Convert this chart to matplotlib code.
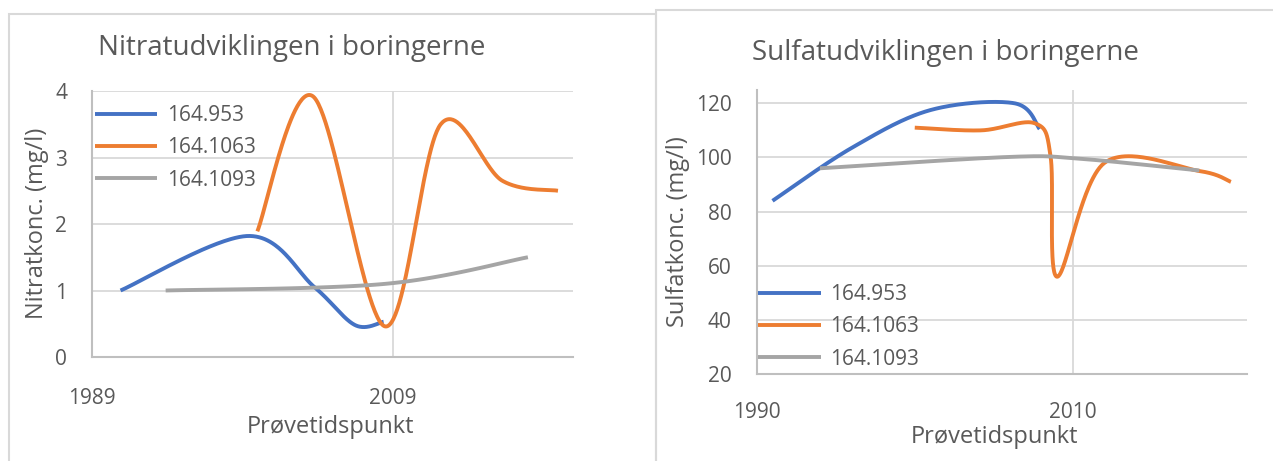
import numpy as np
import matplotlib.pyplot as plt
from matplotlib.patches import Rectangle

# Nitrat
nit_953_year = [1990.9, 1999.4, 2003.8, 2006.5, 2008.4]
nit_953 = [1.0, 1.82, 1.05, 0.48, 0.53]
nit_1063_year = [2000.0, 2003.7, 2008.5, 2012.2, 2016.3, 2020.0]
nit_1063 = [1.89, 3.92, 0.46, 3.5, 2.65, 2.5]
nit_1093_year = [1993.9, 2008.5, 2018.0]
nit_1093 = [1.0, 1.1, 1.5]

# Sulfat
sul_953_year = [1991.0, 1996.0, 2001.0, 2006.3, 2007.9]
sul_953 = [84, 103.5, 117.5, 120.0, 110.5]
sul_1063_year = [2000.0, 2004.2, 2007.6, 2008.6, 2009.0, 2012.0, 2018.0, 2020.0]
sul_1063 = [111, 110, 112.6, 100, 56, 98, 95, 91]
sul_1093_year = [1994.0, 2006.0, 2010.5, 2018.0]
sul_1093 = [96, 100.2, 99.5, 95.2]

names = ['164.953', '164.1063', '164.1093']
colors = ['#4472C4', '#ED7D31', '#A5A5A5']
txt = '#595959'
grid = '#d9d9d9'

plt.rcParams['font.family'] = ['Open Sans', 'DejaVu Sans']


def smooth(x, y, n=60):
    # excel style bezier smoothing
    p = np.column_stack([x, y]).astype(float)
    out = []
    for i in range(len(p) - 1):
        p0 = p[i - 1] if i > 0 else p[i]
        p1, p2 = p[i], p[i + 1]
        p3 = p[i + 2] if i + 2 < len(p) else p[i + 1]
        c1 = p1 + (p2 - p0) / 6
        c2 = p2 - (p3 - p1) / 6
        t = np.linspace(0, 1, n)[:, None]
        out.append((1 - t) ** 3 * p1 + 3 * (1 - t) ** 2 * t * c1 + 3 * (1 - t) * t ** 2 * c2 + t ** 3 * p2)
    s = np.vstack(out)
    return s[:, 0], s[:, 1]


W, H = 1273, 461
fig = plt.figure(figsize=(W / 100, H / 100), dpi=100)

# chart frames
fig.add_artist(Rectangle((8.5 / W, -0.1), (656 - 8.5) / W, 1.1 - 14 / H, transform=fig.transFigure,
                         fill=False, ec=grid, lw=1.5))
fig.add_artist(Rectangle((656 / W, -0.1), 0.5, 1.1 - 10 / H, transform=fig.transFigure,
                         fill=False, ec=grid, lw=1.5))

ax1 = fig.add_axes([92 / W, 1 - 357 / H, 481 / W, 266 / H])
ax2 = fig.add_axes([756.7 / W, 1 - 374.3 / H, 490 / W, 284.6 / H])

series1 = [(nit_953_year, nit_953), (nit_1063_year, nit_1063), (nit_1093_year, nit_1093)]
series2 = [(sul_953_year, sul_953), (sul_1063_year, sul_1063), (sul_1093_year, sul_1093)]

for ax, series in [(ax1, series1), (ax2, series2)]:
    for (x, y), c, nm in zip(series, colors, names):
        sx, sy = smooth(x, y)
        ax.plot(sx, sy, color=c, lw=2.8, label=nm, solid_capstyle='butt', zorder=3)
    for s in ['top', 'right']:
        ax.spines[s].set_visible(False)
    for s in ['left', 'bottom']:
        ax.spines[s].set_color('#bfbfbf')
        ax.spines[s].set_linewidth(1.5)
    ax.grid(True, color=grid, lw=1.3)
    ax.set_axisbelow(True)
    ax.tick_params(length=0, labelsize=15, labelcolor=txt)
    ax.tick_params(axis='y', pad=18)

ax1.tick_params(axis='x', pad=22)
ax2.tick_params(axis='x', pad=20)

ax1.set_xlim(1989, 2021)
ax1.set_ylim(0, 4)
ax1.set_xticks([1989, 2009])
ax1.set_yticks([0, 1, 2, 3, 4])

ax2.set_xlim(1990, 2021)
ax2.set_ylim(20, 125)
ax2.set_xticks([1990, 2010])
ax2.set_yticks([20, 40, 60, 80, 100, 120])

ax1.text(0.416, 1.162, 'Nitratudviklingen i boringerne', transform=ax1.transAxes,
         ha='center', va='center', fontsize=20, color=txt)
ax2.text(0.386, 1.130, 'Sulfatudviklingen i boringerne', transform=ax2.transAxes,
         ha='center', va='center', fontsize=20, color=txt)

ax1.set_ylabel('Nitratkonc. (mg/l)', fontsize=17, color=txt)
ax1.yaxis.set_label_coords(-0.114, 0.504)
ax1.yaxis.label.set_va('center')
ax1.set_xlabel('Prøvetidspunkt', fontsize=17, color=txt)
ax1.xaxis.set_label_coords(0.495, -0.263)
ax1.xaxis.label.set_va('center')

ax2.set_ylabel('Sulfatkonc. (mg/l)', fontsize=17, color=txt)
ax2.yaxis.set_label_coords(-0.161, 0.5)
ax2.yaxis.label.set_va('center')
ax2.set_xlabel('Prøvetidspunkt', fontsize=17, color=txt)
ax2.xaxis.set_label_coords(0.486, -0.222)
ax2.xaxis.label.set_va('center')

for ax, anchor in [(ax1, (0.006, 0.948)), (ax2, (0.003, 0.318))]:
    leg = ax.legend(loc='upper left', bbox_to_anchor=anchor, frameon=False, fontsize=15,
                    handlelength=3.0, handletextpad=0.45, labelspacing=0.55,
                    borderpad=0, borderaxespad=0)
    for t in leg.get_texts():
        t.set_color(txt)
    for l in leg.get_lines():
        l.set_linewidth(2.8)

fig.savefig('out.png', dpi=100)
